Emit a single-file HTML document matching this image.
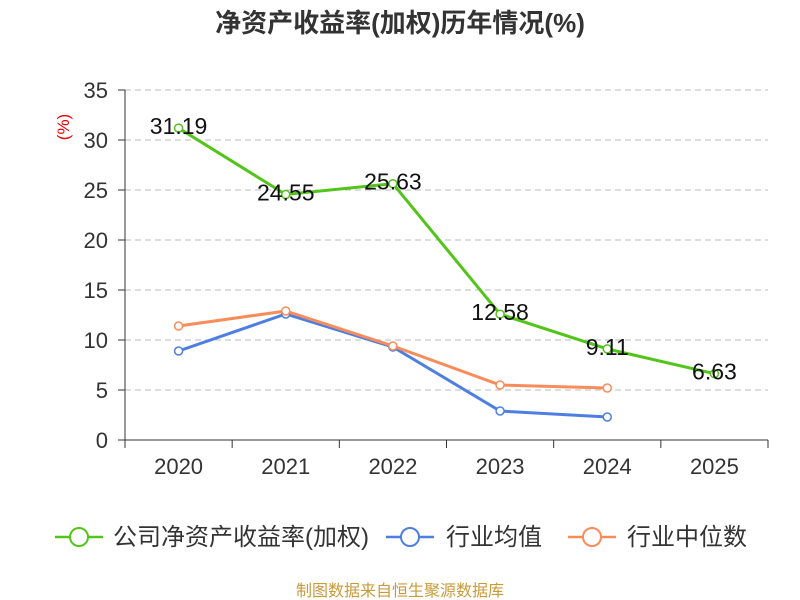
<!DOCTYPE html>
<html><head><meta charset="utf-8"><style>
body{margin:0;background:#fff;}
svg{display:block;font-family:"Liberation Sans","Noto Sans CJK SC",sans-serif;}
</style></head><body>
<svg id="chart" width="800" height="600">
<text x="400" y="32" text-anchor="middle" font-size="26" font-weight="bold" fill="#333">净资产收益率(加权)历年情况(%)</text>
<text x="0" y="0" transform="translate(69,127) rotate(-90)" text-anchor="middle" font-size="17" fill="#e00">(%)</text>
<g id="axes"></g><g id="series"></g>
<g>
<g><line x1="55" y1="537" x2="103" y2="537" stroke="#52c41a" stroke-width="2.5"/><circle cx="79" cy="537" r="9" fill="#fff" stroke="#52c41a" stroke-width="2"/><text x="113" y="545" font-size="24" fill="#333">公司净资产收益率(加权)</text></g>
<g><line x1="386" y1="537" x2="434" y2="537" stroke="#4e7fe0" stroke-width="2.5"/><circle cx="410" cy="537" r="9" fill="#fff" stroke="#4e7fe0" stroke-width="2"/><text x="446" y="545" font-size="24" fill="#333">行业均值</text></g>
<g><line x1="568" y1="537" x2="616" y2="537" stroke="#fa8c5a" stroke-width="2.5"/><circle cx="592" cy="537" r="9" fill="#fff" stroke="#fa8c5a" stroke-width="2"/><text x="627" y="545" font-size="24" fill="#333">行业中位数</text></g>
</g>
<text x="400" y="596" text-anchor="middle" font-size="16" fill="#c89a3a">制图数据来自恒生聚源数据库</text>
</svg>
<script>
const categories=["2020","2021","2022","2023","2024","2025"];
const roeValues=[31.19,24.55,25.63,12.58,9.11,6.63];
const avgValues=[8.9,12.6,9.3,2.9,2.3];
const medianValues=[11.4,12.9,9.4,5.5,5.2];
const yTicks=[0,5,10,15,20,25,30,35];
const NS="http://www.w3.org/2000/svg";
const L=125,R=768,T=90,B=440,yMax=35;
const bw=(R-L)/categories.length;
const xs=i=>L+bw*(i+0.5);
const ys=v=>B-(v/yMax)*(B-T);
function mk(tag,attrs,parent,text){const e=document.createElementNS(NS,tag);for(const k in attrs)e.setAttribute(k,attrs[k]);if(text!==undefined)e.textContent=text;parent.appendChild(e);return e;}
const ax=document.getElementById('axes');
yTicks.forEach(t=>{const y=ys(t);
 if(t>0){const g=mk('line',{x1:L,x2:R,y1:y,y2:y,stroke:'#bbb','stroke-dasharray':'6,4'},ax);}
 mk('line',{x1:L-7,x2:L,y1:y,y2:y,stroke:'#333'},ax);
 const lb=mk('text',{x:L-17,y:y+8,'text-anchor':'end','font-size':22,fill:'#333'},ax,String(t));
 
 
});
mk('line',{x1:L,x2:L,y1:T,y2:B,stroke:'#333'},ax);
mk('line',{x1:L,x2:R,y1:B,y2:B,stroke:'#333'},ax);
for(let i=0;i<=categories.length;i++){const x=L+bw*i;mk('line',{x1:x,x2:x,y1:B,y2:B+8,stroke:'#333'},ax);}
categories.forEach((c,i)=>{const t=mk('text',{x:xs(i),y:B+34,'text-anchor':'middle','font-size':22,fill:'#333'},ax,c);
 
 });
const sg=document.getElementById('series');
function series(vals,color,name,labels){
 const pts=vals.map((v,i)=>xs(i)+','+ys(v)).join(' ');
 const pl=mk('polyline',{points:pts,fill:'none',stroke:color,'stroke-width':3},sg);
 
 
 vals.forEach((v,i)=>{const c=mk('circle',{cx:xs(i),cy:ys(v),r:4,fill:'#fff',stroke:color,'stroke-width':1.5},sg);
  
  
  if(labels){const t=mk('text',{x:xs(i),y:ys(v)+6,'text-anchor':'middle','font-size':23,fill:'#111'},sg,v.toFixed(2));
   
   }
 });
}
series(avgValues,'#4e7fe0','industry-avg',false);
series(medianValues,'#fa8c5a','industry-median',false);
series(roeValues,'#52c41a','roe',true);
</script>
</body></html>
